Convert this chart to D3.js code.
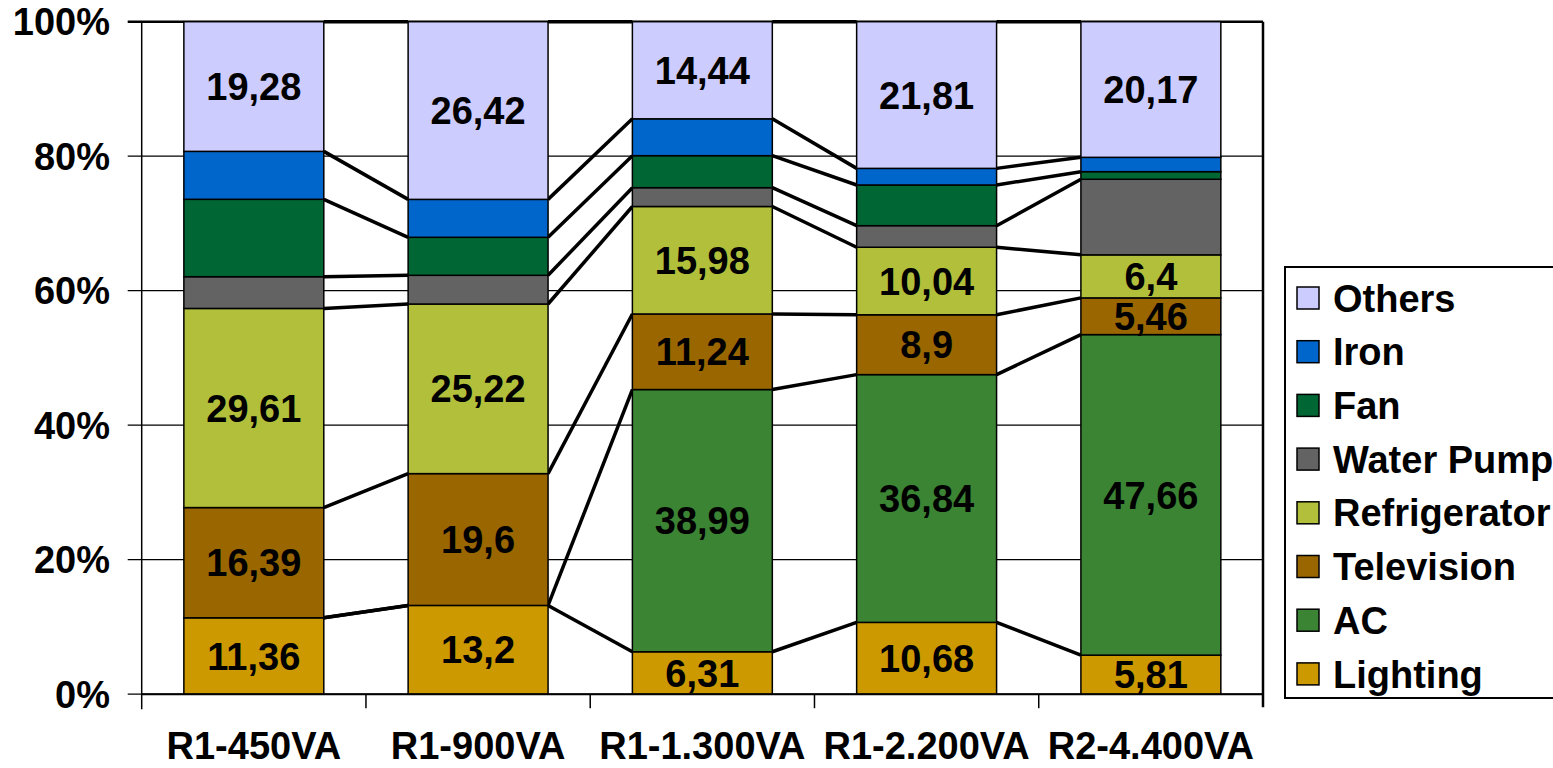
<!DOCTYPE html>
<html>
<head>
<meta charset="utf-8">
<script src="https://cdn.jsdelivr.net/npm/d3@7"></script>
<style>
  body { margin: 0; background: #fff; }
  svg { display: block; }
  text { font-family: "Liberation Sans", Arial, sans-serif; font-weight: bold; fill: #000; }
</style>
</head>
<body>
<svg></svg>
<script>
// categorías y series (porcentajes)
let categorias = ["R1-450VA", "R1-900VA", "R1-1.300VA", "R1-2.200VA", "R2-4.400VA"];
let series = ["Lighting", "AC", "Television", "Refrigerator", "Water Pump", "Fan", "Iron", "Others"];

let lighting     = [11.36, 13.2, 6.31, 10.68, 5.81];
let ac           = [0, 0, 38.99, 36.84, 47.66];
let television   = [16.39, 19.6, 11.24, 8.9, 5.46];
let refrigerator = [29.61, 25.22, 15.98, 10.04, 6.4];
let waterPump    = [4.72, 4.27, 2.8, 3.21, 11.24];
let fan          = [11.51, 5.65, 4.76, 6.05, 1.13];
let iron         = [7.13, 5.64, 5.48, 2.47, 2.13];
let others       = [19.28, 26.42, 14.44, 21.81, 20.17];

// etiquetas que se muestran (null = sin etiqueta)
let etiquetas = {
  "Lighting": ["11,36", "13,2", "6,31", "10,68", "5,81"],
  "AC": [null, null, "38,99", "36,84", "47,66"],
  "Television": ["16,39", "19,6", "11,24", "8,9", "5,46"],
  "Refrigerator": ["29,61", "25,22", "15,98", "10,04", "6,4"],
  "Others": ["19,28", "26,42", "14,44", "21,81", "20,17"]
};

let yTicks = [0, 20, 40, 60, 80, 100];

let colores = {
  "Lighting": "#CC9900",
  "AC": "#3A8434",
  "Television": "#996600",
  "Refrigerator": "#B1BF3B",
  "Water Pump": "#636363",
  "Fan": "#006633",
  "Iron": "#0066CC",
  "Others": "#CCCCFF"
};

let svgWidth = 1553;
let svgHeight = 768;

let svg = d3.select("svg")
  .attr("width", svgWidth)
  .attr("height", svgHeight);

let plotLeft = 141.7, plotRight = 1263, plotTop = 21.7, plotBottom = 694.2;

// armamos la tabla para d3.stack
let valores = [lighting, ac, television, refrigerator, waterPump, fan, iron, others];
let tabla = categorias.map(function (c, i) {
  let fila = { cat: c };
  series.forEach(function (s, j) { fila[s] = valores[j][i]; });
  return fila;
});
let apilado = d3.stack().keys(series)(tabla);

let x = d3.scaleBand()
  .domain(categorias)
  .range([plotLeft, plotRight])
  .paddingInner(0.376)
  .paddingOuter(0.188);

let y = d3.scaleLinear()
  .domain([0, 100])
  .range([plotBottom, plotTop]);

// gridlines
svg.append("g")
  .selectAll("line")
  .data(yTicks)
  .enter()
  .append("line")
  .attr("x1", plotLeft - 14)
  .attr("x2", plotRight)
  .attr("y1", function (d) { return y(d); })
  .attr("y2", function (d) { return y(d); })
  .attr("stroke", "#000")
  .attr("stroke-width", function (d) { return d === 100 ? 2.5 : 1.3; });

// etiquetas eje Y
svg.append("g")
  .selectAll("text")
  .data(yTicks)
  .enter()
  .append("text")
  .attr("x", 110)
  .attr("y", function (d) { return y(d); })
  .attr("dy", "0.36em")
  .attr("text-anchor", "end")
  .style("font-size", "38px")
  .text(function (d) { return d + "%"; });

// líneas de series entre barras
let bw = x.bandwidth();
let gLineas = svg.append("g");
apilado.forEach(function (capa) {
  for (let i = 0; i < categorias.length - 1; i++) {
    gLineas.append("line")
      .attr("x1", x(categorias[i]) + bw)
      .attr("y1", y(capa[i][1]))
      .attr("x2", x(categorias[i + 1]))
      .attr("y2", y(capa[i + 1][1]))
      .attr("stroke", "#000")
      .attr("stroke-width", 3.5);
  }
});

// barras
let gBarras = svg.append("g");
apilado.forEach(function (capa) {
  gBarras.selectAll(null)
    .data(capa.filter(function (d) { return d[1] - d[0] > 0; }))
    .enter()
    .append("rect")
    .attr("x", function (d) { return x(d.data.cat); })
    .attr("y", function (d) { return y(d[1]); })
    .attr("width", bw)
    .attr("height", function (d) { return y(d[0]) - y(d[1]); })
    .attr("fill", colores[capa.key])
    .attr("stroke", "#000")
    .attr("stroke-width", 1.5);
});

// etiquetas de datos
apilado.forEach(function (capa) {
  let labs = etiquetas[capa.key];
  if (!labs) return;
  let conEtiqueta = capa.map(function (d, i) { return { d: d, t: labs[i] }; })
    .filter(function (e) { return e.t !== null; });
  svg.append("g")
    .selectAll("text")
    .data(conEtiqueta)
    .enter()
    .append("text")
    .attr("x", function (e) { return x(e.d.data.cat) + bw / 2; })
    .attr("y", function (e) { return y((e.d[0] + e.d[1]) / 2); })
    .attr("dy", "0.36em")
    .attr("text-anchor", "middle")
    .style("font-size", "38px")
    .text(function (e) { return e.t; });
});

// eje Y y borde derecho
svg.append("line")
  .attr("x1", plotLeft).attr("x2", plotLeft)
  .attr("y1", plotTop).attr("y2", plotBottom + 15)
  .attr("stroke", "#000").attr("stroke-width", 1.5);
svg.append("line")
  .attr("x1", plotRight).attr("x2", plotRight)
  .attr("y1", plotTop).attr("y2", plotBottom + 13)
  .attr("stroke", "#000").attr("stroke-width", 2.5);

// eje X
svg.append("line")
  .attr("x1", plotLeft).attr("x2", plotRight)
  .attr("y1", plotBottom).attr("y2", plotBottom)
  .attr("stroke", "#000").attr("stroke-width", 2);

let limites = categorias.map(function (c) { return x(c) - x.step() * x.paddingInner() / 2; });
svg.append("g")
  .selectAll("line")
  .data(limites.slice(1))
  .enter()
  .append("line")
  .attr("x1", function (d) { return d; })
  .attr("x2", function (d) { return d; })
  .attr("y1", plotBottom)
  .attr("y2", plotBottom + 14)
  .attr("stroke", "#000")
  .attr("stroke-width", 1.5);

svg.append("g")
  .selectAll("text")
  .data(categorias)
  .enter()
  .append("text")
  .attr("x", function (d) { return x(d) + bw / 2; })
  .attr("y", 759)
  .attr("text-anchor", "middle")
  .style("font-size", "38px")
  .text(function (d) { return d; });

// leyenda
let leyenda = svg.append("g");
leyenda.append("rect")
  .attr("x", 1285).attr("y", 267)
  .attr("width", 300).attr("height", 431)
  .attr("fill", "#fff")
  .attr("stroke", "#000").attr("stroke-width", 2);

let ordenLeyenda = series.slice().reverse();
let item = leyenda.selectAll(".item")
  .data(ordenLeyenda)
  .enter()
  .append("g")
  .attr("transform", function (d, i) { return "translate(1297," + (298 + i * 53.7) + ")"; });

item.append("rect")
  .attr("x", 0).attr("y", -11)
  .attr("width", 22).attr("height", 22)
  .attr("fill", function (d) { return colores[d]; })
  .attr("stroke", "#000").attr("stroke-width", 1.5);

item.append("text")
  .attr("x", 36)
  .attr("dy", "0.36em")
  .style("font-size", "38px")
  .text(function (d) { return d; });
</script>
</body>
</html>
